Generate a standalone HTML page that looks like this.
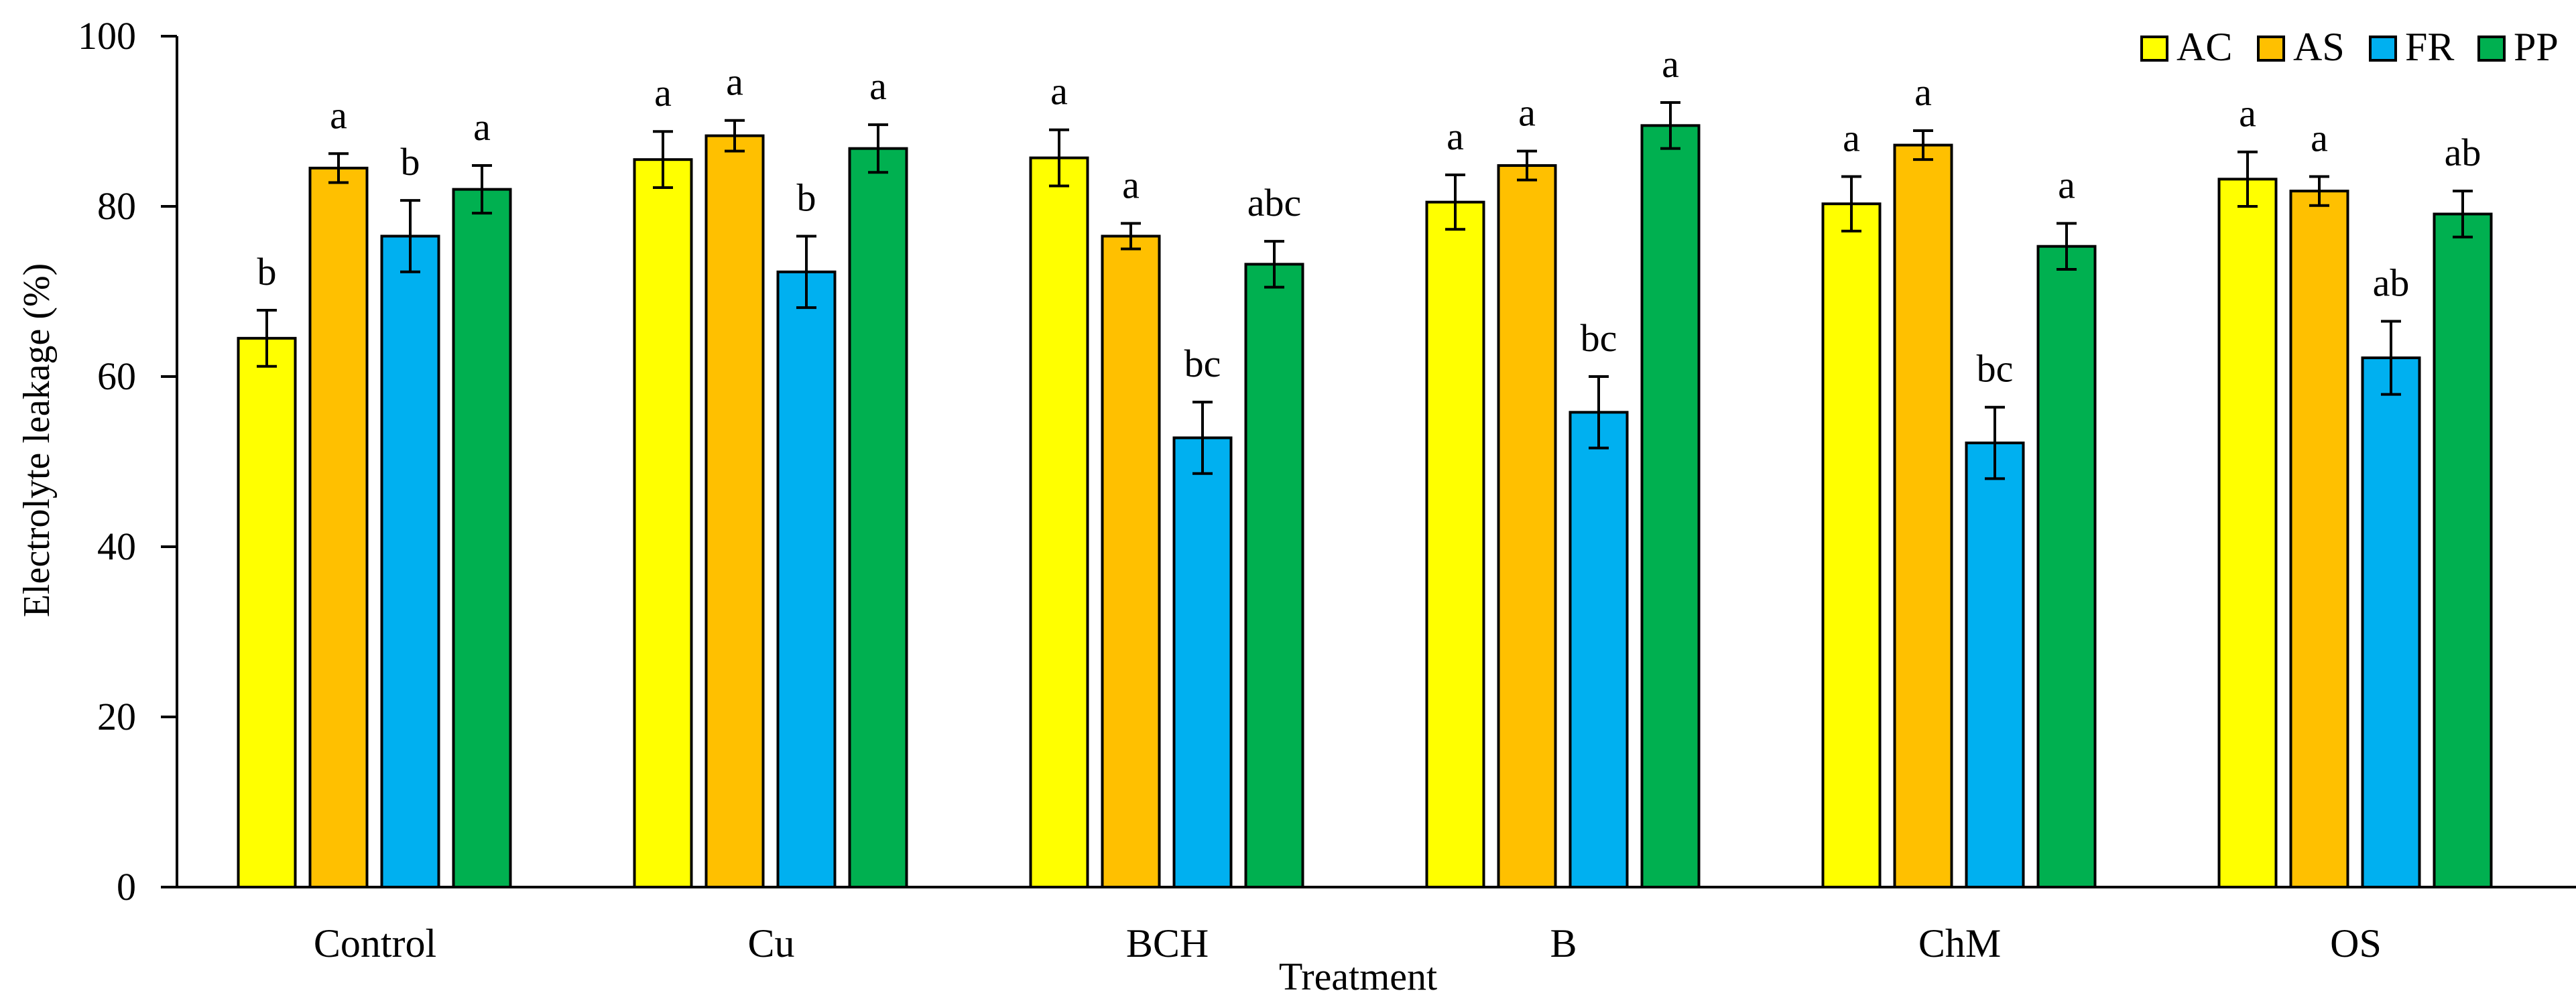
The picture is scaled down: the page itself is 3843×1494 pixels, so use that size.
<!DOCTYPE html>
<html><head><meta charset="utf-8"><style>
html,body{margin:0;padding:0;background:#fff;}
svg{display:block;}
text{font-family:"Liberation Serif",serif;fill:#000;}
</style></head><body>
<svg id="chart" width="3843" height="1494" viewBox="0 0 3843 1494">
<g id="axes"></g>
<g id="bars"></g>
<g id="legend"></g>
<text x="60" y="657" font-size="56" text-anchor="middle" transform="rotate(-90 60 657)" dominant-baseline="middle">Electrolyte leakage (%)</text>
<text x="2026" y="1477" font-size="58" text-anchor="middle">Treatment</text>
</svg>
<script>
const categories = ["Control","Cu","BCH","B","ChM","OS"];
const seriesNames = ["AC","AS","FR","PP"];
const acValues = [64.5,85.5,85.7,80.5,80.3,83.2];
const asValues = [84.5,88.3,76.5,84.8,87.2,81.8];
const frValues = [76.5,72.3,52.8,55.8,52.2,62.2];
const ppValues = [82.0,86.8,73.2,89.5,75.3,79.1];
const acErr = [3.3,3.3,3.3,3.2,3.2,3.2];
const asErr = [1.7,1.8,1.5,1.7,1.7,1.7];
const frErr = [4.2,4.2,4.2,4.2,4.2,4.3];
const ppErr = [2.8,2.8,2.7,2.7,2.7,2.7];
const acLetters = ["b","a","a","a","a","a"];
const asLetters = ["a","a","a","a","a","a"];
const frLetters = ["b","b","bc","bc","bc","ab"];
const ppLetters = ["a","a","abc","a","a","ab"];
const yTicks = [0,20,40,60,80,100];

const colors = ["#FFFF00","#FFC000","#00B0F0","#00B050"];
const values=[acValues,asValues,frValues,ppValues];
const errs=[acErr,asErr,frErr,ppErr];
const letters=[acLetters,asLetters,frLetters,ppLetters];
const NS="http://www.w3.org/2000/svg";
const X0=264, catW=591, Y0=1324, Y100=54;
const y=v=>Y0-(v/100)*(Y0-Y100);
const catX=i=>X0+catW*(i+0.5);
const barW=85, step=107;
const barX=(i,s)=>catX(i)-(step*1.5)-barW/2+s*step+(-1);
function mk(tag,attrs,parent){const e=document.createElementNS(NS,tag);for(const k in attrs)e.setAttribute(k,attrs[k]);parent.appendChild(e);return e;}
const axes=document.getElementById('axes'), bars=document.getElementById('bars'), legend=document.getElementById('legend');
let l=mk('line',{x1:X0,y1:Y100,x2:X0,y2:Y0,stroke:'#000','stroke-width':4},axes);


l=mk('line',{x1:X0-2,y1:Y0,x2:3843,y2:Y0,stroke:'#000','stroke-width':4},axes);


yTicks.forEach(t=>{
  const tk=mk('line',{x1:X0-24,y1:y(t),x2:X0,y2:y(t),stroke:'#000','stroke-width':4},axes);
  
  
  const tx=mk('text',{x:203,y:y(t)+19,'font-size':58,'text-anchor':'end'},axes);
  tx.textContent=t;
  
  
});
categories.forEach((c,i)=>{
  const tx=mk('text',{x:catX(i),y:1428,'font-size':60,'text-anchor':'middle'},axes);
  tx.textContent=c;
  
  
  for(let s=0;s<4;s++){
    const v=values[s][i], e=errs[s][i], bx=barX(i,s), cx=bx+barW/2;
    const r=mk('rect',{x:bx,y:y(v),width:barW,height:Y0-y(v),fill:colors[s],stroke:'#000','stroke-width':4},bars);
    
    
    const g=mk('g',{stroke:'#000','stroke-width':4},bars);
    
    
    mk('line',{x1:cx,y1:y(v+e),x2:cx,y2:y(v-e)},g);
    mk('line',{x1:cx-15,y1:y(v+e),x2:cx+15,y2:y(v+e)},g);
    mk('line',{x1:cx-15,y1:y(v-e),x2:cx+15,y2:y(v-e)},g);
    const lt=mk('text',{x:cx,y:y(v+e)-38,'font-size':58,'text-anchor':'middle'},bars);
    lt.textContent=letters[s][i];
    
    
  }
});
const legX=[3195,3369,3536,3698];
seriesNames.forEach((n,s)=>{
  const g=mk('g',{},legend);
  
  
  mk('rect',{x:legX[s],y:55,width:38,height:35,fill:colors[s],stroke:'#000','stroke-width':4},g);
  const t=mk('text',{x:legX[s]+52,y:90,'font-size':60},g);
  t.textContent=n;
});
</script>
</body></html>
